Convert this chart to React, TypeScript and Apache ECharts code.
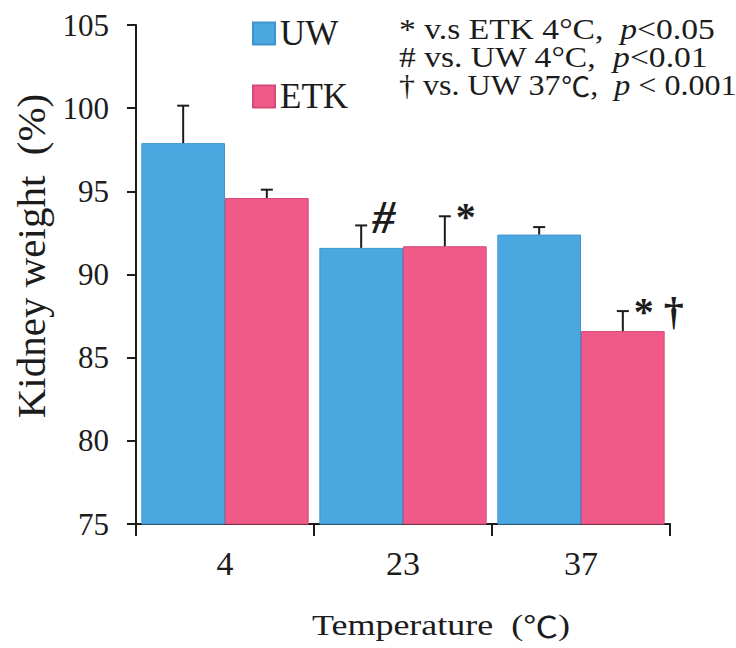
import React, { useEffect, useRef } from "react";
import * as echarts from "echarts";

// Temperature groups (°C) on the category axis
const categories = ["4", "23", "37"];

// Kidney weight (%) — mean and SD per storage solution
const uwMean = [97.9, 91.6, 92.4];
const uwSd = [2.25, 1.35, 0.45];
const etkMean = [94.6, 91.7, 86.6];
const etkSd = [0.5, 1.8, 1.2];

// Significance marks drawn beside each error bar
const uwMarks = ["", "{h|#}", ""];
const etkMarks = ["", "*", "* †"];

// Value axis range
const yMin = 75;
const yMax = 105;
const yStep = 5;

// Footnotes for the significance marks
const noteLines = [
  "* v.s ETK 4°C,  {i|p}<0.05",
  "# vs. UW 4°C,  {i|p}<0.01",
  "† vs. UW 37{c|℃},  {i|p} < 0.001",
];

const SERIF = "Liberation Serif";
const CJK = "Noto Sans CJK JP";
const INK = "#1c1c1c";
const BLUE = "#4ba7e0";
const PINK = "#ef5a88";
const CAT_GAP = 0.06;
// horizontal stretch of each footnote line
const NOTE_STRETCH = [1.12, 1.12, 1.07];

function errorBarSeries(name: string, means: number[], sds: number[], marks: string[], side: number) {
  return {
    type: "custom",
    name,
    z: 5,
    silent: true,
    encode: { x: 0, y: 1 },
    data: means.map((m, i) => [i, m, sds[i]]),
    renderItem: (params: any, api: any) => {
      const i = api.value(0);
      const m = api.value(1);
      const sd = api.value(2);
      const base = api.coord([i, m]);
      const top = api.coord([i, m + sd]);
      const band = api.size([1, 0])[0];
      const barW = (band * (1 - CAT_GAP)) / 2;
      const cx = base[0] + (side * barW) / 2;
      const cap = 6;
      const lineStyle = { stroke: INK, lineWidth: 2 };
      const children: any[] = [
        { type: "line", shape: { x1: cx, y1: base[1], x2: cx, y2: top[1] }, style: lineStyle },
        { type: "line", shape: { x1: cx - cap, y1: top[1], x2: cx + cap, y2: top[1] }, style: lineStyle },
      ];
      const mark = marks[params.dataIndex];
      if (mark) {
        children.push({
          type: "text",
          x: cx + cap + 5,
          y: top[1],
          style: {
            text: mark,
            fill: INK,
            fontSize: 40,
            fontWeight: "bold",
            fontFamily: SERIF,
            align: "left",
            verticalAlign: "middle",
            rich: {
              h: {
                fontSize: 46,
                fontWeight: "bold",
                fontStyle: "italic",
                fontFamily: SERIF,
                fill: INK,
                padding: [0, 0, 16, 0],
              },
            },
          },
        });
      }
      return { type: "group", children };
    },
  };
}

export default function App() {
  const ref = useRef<HTMLDivElement>(null);

  useEffect(() => {
    if (!ref.current) return;
    const chart = echarts.init(ref.current, null, { renderer: "svg" });

    const axisLine = { show: true, lineStyle: { color: INK, width: 2 } };
    const noteRich = {
      i: { fontSize: 30, fontFamily: SERIF, fontStyle: "italic", fill: INK },
      c: { fontSize: 27, fontFamily: CJK, fill: INK },
    };

    chart.setOption({
      animation: false,
      backgroundColor: "#ffffff",
      textStyle: { fontFamily: SERIF },
      grid: { left: 136, right: 66, top: 25, bottom: 124, containLabel: false },
      legend: {
        orient: "vertical",
        left: 252,
        top: 16,
        padding: 0,
        itemWidth: 22,
        itemHeight: 22,
        itemGap: 28,
        icon: "rect",
        data: ["UW", "ETK"],
        textStyle: { fontSize: 35, fontFamily: SERIF, color: INK },
      },
      xAxis: {
        type: "category",
        data: categories,
        axisLine,
        axisTick: { show: true, length: 12, lineStyle: { color: INK, width: 2 } },
        axisLabel: { fontSize: 34, fontFamily: SERIF, color: INK, margin: 22 },
        splitLine: { show: false },
      },
      yAxis: {
        type: "value",
        min: yMin,
        max: yMax,
        interval: yStep,
        axisLine,
        axisTick: { show: true, length: 9, lineStyle: { color: INK, width: 2 } },
        axisLabel: { fontSize: 31, fontFamily: SERIF, color: INK, margin: 27 },
        splitLine: { show: false },
      },
      series: [
        {
          type: "bar",
          name: "UW",
          data: uwMean,
          barGap: "0%",
          barCategoryGap: `${CAT_GAP * 100}%`,
          itemStyle: { color: BLUE, borderColor: "#3d95cf", borderWidth: 1 },
        },
        {
          type: "bar",
          name: "ETK",
          data: etkMean,
          barGap: "0%",
          barCategoryGap: `${CAT_GAP * 100}%`,
          itemStyle: { color: PINK, borderColor: "#d84976", borderWidth: 1 },
        },
        errorBarSeries("UW SD", uwMean, uwSd, uwMarks, -1),
        errorBarSeries("ETK SD", etkMean, etkSd, etkMarks, 1),
      ],
      graphic: [
        ...noteLines.map((t, k) => ({
          type: "text",
          x: 399,
          y: 29 + k * 28,
          scaleX: NOTE_STRETCH[k],
          style: {
            text: t,
            fill: INK,
            fontSize: 30,
            fontFamily: SERIF,
            align: "left",
            verticalAlign: "middle",
            rich: noteRich,
          },
        })),
        {
          type: "text",
          x: 441,
          y: 625,
          scaleX: 1.2,
          style: {
            text: "Temperature  ({c|℃})",
            fill: INK,
            fontSize: 30,
            fontFamily: SERIF,
            align: "center",
            verticalAlign: "middle",
            rich: { c: { fontSize: 29, fontFamily: CJK, fill: INK } },
          },
        },
        {
          type: "text",
          x: 31,
          y: 256,
          rotation: Math.PI / 2,
          style: {
            text: "Kidney weight  (%)",
            fill: INK,
            fontSize: 41,
            fontFamily: SERIF,
            align: "center",
            verticalAlign: "middle",
          },
        },
      ],
    });

    return () => chart.dispose();
  }, []);

  return (
    <div
      ref={ref}
      style={{ position: "fixed", left: 0, top: 0, width: 736, height: 648 }}
    />
  );
}
